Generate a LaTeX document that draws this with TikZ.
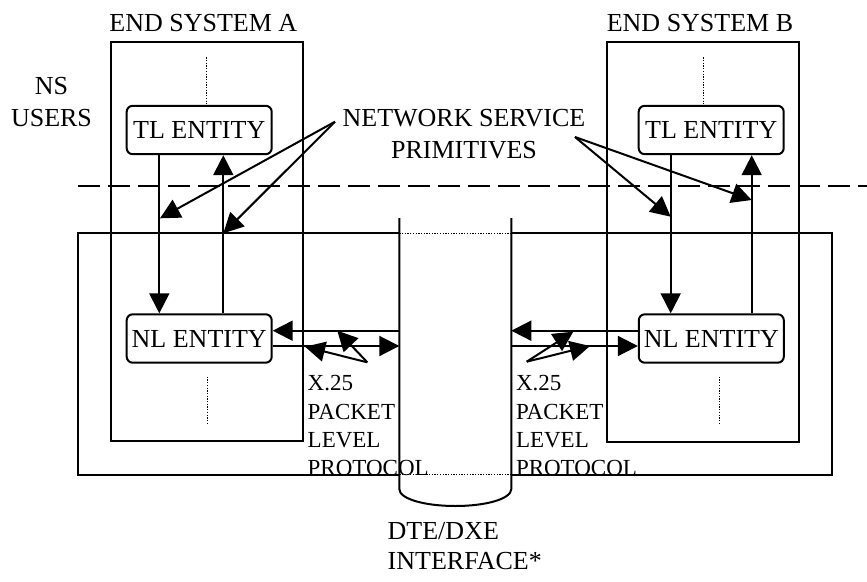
\documentclass[tikz,border=0pt]{standalone}
\usepackage{fontspec}
\setmainfont{Liberation Serif}
\usetikzlibrary{arrows.meta}
\begin{document}
\begin{tikzpicture}[x=1pt,y=-1pt,
  line width=2pt,
  ent/.style={draw,rounded corners=6pt,minimum width=145pt,minimum height=48.4pt,inner sep=0pt,font=\fontsize{26}{30}\selectfont},
  arr/.style={-{Triangle[length=20pt,width=20pt]}},
  lbl/.style={inner sep=0pt,font=\fontsize{26}{31.6}\selectfont},
  smalllbl/.style={inner sep=0pt,font=\fontsize{23}{28.3}\selectfont,align=left},
  dots/.style={line width=1.3pt,dash pattern=on 1.3pt off 1.4pt},
  longdash/.style={dash pattern=on 22pt off 8pt}
]
\useasboundingbox (0,0) rectangle (867,581);

% dashed boundary between NS users and network layer
\draw[longdash] (78.3,185.7) -- (867,185.7);

% end system boxes
\draw (110.7,42.3) rectangle (303,441);
\draw (606.7,42.3) rectangle (799,441.7);

% big box
\coordinate (BBtl) at (78.3,233.3);
\coordinate (BBtr) at (831.7,233.3);
\coordinate (BBbl) at (78.3,474.5);
\coordinate (BBbr) at (831.7,474.5);
\coordinate (CLt) at (399.3,233.3);
\coordinate (CRt) at (511.3,233.3);
\coordinate (CLb) at (399.3,474.5);
\coordinate (CRb) at (511.3,474.5);
\draw (CLt) -- (BBtl) -- (BBbl) -- (CLb);
\draw (CRt) -- (BBtr) -- (BBbr) -- (CRb);
\draw[dots] (CLt) -- (CRt);
\draw[dots] (CLb) -- (CRb);

% cylinder (interface)
\draw (399.3,218) -- (399.3,489) .. controls (399.3,499) and (425,506) .. (455.3,506)
      .. controls (485.6,506) and (511.3,499) .. (511.3,489) -- (511.3,218);

% dotted continuation lines
\draw[dots] (206.7,57.3) -- (206.7,103.3);
\draw[dots] (207.3,376.7) -- (207.3,423.3);
\draw[dots] (703.3,57.3) -- (703.3,103.3);
\draw[dots] (719.3,376.7) -- (719.3,423.3);

% entities
\node[ent] (TLA) at (199.2,130) {TL ENTITY};
\node[ent] (TLB) at (711.2,130) {TL ENTITY};
\node[ent] (NLA) at (199.2,338.5) {NL ENTITY};
\node[ent] (NLB) at (711.3,338.5) {NL ENTITY};

% vertical primitives
\coordinate (xa1) at (159.3,0);
\coordinate (xa2) at (223.3,0);
\coordinate (xb1) at (670.7,0);
\coordinate (xb2) at (751.7,0);
\draw[arr] (TLA.south -| xa1) -- (NLA.north -| xa1);
\draw[arr] (NLA.north -| xa2) -- (TLA.south -| xa2);
\draw[arr] (TLB.south -| xb1) -- (NLB.north -| xb1);
\draw[arr] (NLB.north -| xb2) -- (TLB.south -| xb2);

% horizontal protocol arrows
\coordinate (yu) at (0,330.7);
\coordinate (yl) at (0,346);
\draw[arr] (CLt |- yu) -- (NLA.east |- yu);
\draw[arr] (NLA.east |- yl) -- (CLt |- yl);
\draw[arr] (NLB.west |- yu) -- (CRt |- yu);
\draw[arr] (CRt |- yl) -- (NLB.west |- yl);

% labels
\node[lbl,anchor=base] (ESA) at (203.3,31.7) {END SYSTEM A};
\node[lbl,anchor=base] (ESB) at (700,31.7) {END SYSTEM B};
\node[lbl,align=center,anchor=north] (NSU) at (51.5,76.7) {NS\\USERS};
\node[lbl,align=center,anchor=north] (NSP) at (464,108.3) {NETWORK SERVICE\\PRIMITIVES};
\node[smalllbl,anchor=north west] (X25A) at (306.7,374.5) {X.25\\PACKET\\LEVEL\\PROTOCOL};
\node[smalllbl,anchor=north west] (X25B) at (515,374.5) {X.25\\PACKET\\LEVEL\\PROTOCOL};
\node[lbl,align=left,anchor=north west,font=\fontsize{26}{29.5}\selectfont] (DTE) at (386.7,521.7) {DTE/DXE\\INTERFACE*};

% label pointers
\coordinate (nsA) at (335,121.7);
\coordinate (tA1) at (160,218.3);
\coordinate (tA2) at (223.3,233.3);
\coordinate (nsB) at (575,137);
\coordinate (tB1) at (670.7,216.7);
\coordinate (tB2) at (751.7,200);
\draw[arr] (nsA) -- (tA1);
\draw[arr] (nsA) -- (tA2);
\draw[arr] (nsB) -- (tB1);
\draw[arr] (nsB) -- (tB2);

\coordinate (xA) at (367.3,362.3);
\coordinate (tX1) at (305,346.7);
\coordinate (tX2) at (337.3,330.7);
\coordinate (xB) at (526.7,361.7);
\coordinate (tX3) at (573.3,331.7);
\coordinate (tX4) at (590,346);
\draw[arr] (xA) -- (tX1);
\draw[arr] (xA) -- (tX2);
\draw[arr] (xB) -- (tX3);
\draw[arr] (xB) -- (tX4);
\end{tikzpicture}
\end{document}
